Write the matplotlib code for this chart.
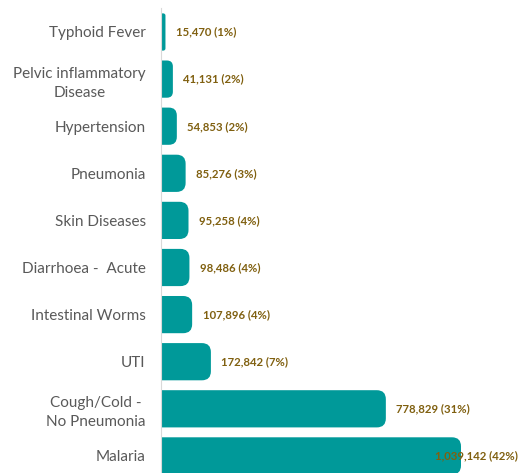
import matplotlib.pyplot as plt
from matplotlib.patches import FancyBboxPatch

categories = ["Typhoid Fever", "Pelvic inflammatory\nDisease", "Hypertension", "Pneumonia",
              "Skin Diseases", "Diarrhoea -  Acute", "Intestinal Worms", "UTI",
              "Cough/Cold -\nNo Pneumonia", "Malaria"]
cases = [15470, 41131, 54853, 85276, 95258, 98486, 107896, 172842, 778829, 1039142]
shares = [1, 2, 2, 3, 4, 4, 4, 7, 31, 42]

W, H = 520, 473
fig = plt.figure(figsize=(W / 100, H / 100), dpi=100)
ax = fig.add_axes([161 / W, 0, 1 - 161 / W, 1 - 8 / H])

px_x = 1039142 / 300.0          # data units per pixel horizontally
row_px = 47.1
ax.set_xlim(0, (W - 161) * px_x)
ax.set_ylim((H - 32) / row_px, (8 - 32) / row_px)

teal = "#009999"
bar_h = 0.79
aspect = (1 / row_px) / px_x
for i, v in enumerate(cases):
    r_px = min(9, v / px_x / 2)
    r = r_px * px_x
    # start a bit left of zero so the left corners are hidden by the clip
    p = FancyBboxPatch((-r * 2, i - bar_h / 2), v + r * 2, bar_h,
                       boxstyle=f"round,pad=0,rounding_size={r}",
                       mutation_aspect=aspect, fc=teal, ec="none")
    ax.add_patch(p)
    label = f"{v:,} ({shares[i]}%)"
    if i == len(cases) - 1:
        ax.annotate(label, (1, i), xycoords=("axes fraction", "data"),
                    xytext=(-1.5, 0), textcoords="offset points",
                    ha="right", va="center", fontsize=8.2, fontweight="bold",
                    color="#806010", family="Lato")
    else:
        ax.annotate(label, (v, i), xytext=(7.5, 0), textcoords="offset points",
                    ha="left", va="center", fontsize=8.2, fontweight="bold",
                    color="#806010", family="Lato")

ax.set_yticks(range(len(categories)))
ax.set_yticklabels(categories, fontsize=11, color="#595959", family="Lato",
                   multialignment="center", linespacing=1.45)
ax.tick_params(axis="y", length=0, pad=11)
ax.set_xticks([])
for s in ["top", "right", "bottom"]:
    ax.spines[s].set_visible(False)
ax.spines["left"].set_color("#D9D9D9")
ax.spines["left"].set_zorder(5)

fig.savefig("out.png", dpi=100)
